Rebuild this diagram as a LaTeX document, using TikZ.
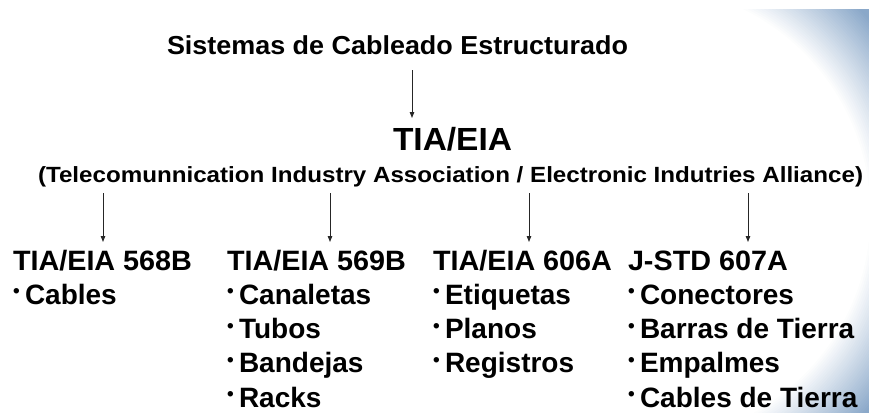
\documentclass[tikz,border=0pt]{standalone}
\usepackage{fontspec}
\setmainfont{Liberation Sans}
\usetikzlibrary{arrows.meta}
\definecolor{blobc}{RGB}{138,168,201}
\newcommand{\sxtext}[2]{\scalebox{#1}[1]{#2}}
\newcommand{\bulitem}[1]{\makebox[12pt][l]{\fontsize{19}{19}\selectfont\raisebox{6.3pt}{•}}#1}
\begin{document}
\begin{tikzpicture}[x=1pt,y=-1pt,
  txt/.style={inner sep=0pt, outer sep=0pt, anchor=base west, text=black},
  hdr/.style={txt, font=\fontsize{28}{28}\selectfont\bfseries},
  itm/.style={txt, font=\fontsize{28}{28}\selectfont\bfseries},
  conn/.style={draw=black!85, line width=1pt, -{Triangle[length=6pt,width=4.5pt]}}]
\useasboundingbox (0,0) rectangle (869,412);
% decorative corner
\begin{scope}
  \clip (600,10) rectangle (869,412);
  \foreach \r in {310,308,...,226} {
    \pgfmathsetmacro\f{max(0,min(100,(\r-228)/(300-228)*100))}
    \fill[blobc!\f!white] (642.5,213.8) circle (\r);
  }
\end{scope}
% titles
\node[txt, font=\fontsize{26}{26}\selectfont\bfseries] (title) at (167,55) {\sxtext{1.036}{Sistemas de Cableado Estructurado}};
\node[txt, font=\fontsize{32}{32}\selectfont\bfseries] (tia) at (393,150) {\sxtext{1.046}{TIA/EIA}};
\node[txt, font=\fontsize{22}{22}\selectfont\bfseries] (sub) at (38,182) {\sxtext{1.098}{(Telecomunnication Industry Association / Electronic Indutries Alliance)}};
% column headers
\node[hdr] (h1) at (13,270) {\sxtext{1.027}{TIA/EIA 568B}};
\node[hdr] (h2) at (227,270) {\sxtext{1.027}{TIA/EIA 569B}};
\node[hdr] (h3) at (433,270) {\sxtext{1.027}{TIA/EIA 606A}};
\node[hdr] (h4) at (628,270) {\sxtext{1.027}{J-STD 607A}};
% items
\node[itm] (i1a) at (13,304.2) {\bulitem{Cables}};
\node[itm] (i2a) at (227,304.2) {\bulitem{Canaletas}};
\node[itm] (i2b) at (227,338.5) {\bulitem{Tubos}};
\node[itm] (i2c) at (227,372.7) {\bulitem{Bandejas}};
\node[itm] (i2d) at (227,407) {\bulitem{Racks}};
\node[itm] (i3a) at (433,304.2) {\bulitem{Etiquetas}};
\node[itm] (i3b) at (433,338.5) {\bulitem{Planos}};
\node[itm] (i3c) at (433,372.7) {\bulitem{Registros}};
\node[itm] (i4a) at (628,304.2) {\bulitem{Conectores}};
\node[itm] (i4b) at (628,338.5) {\bulitem{Barras de Tierra}};
\node[itm] (i4c) at (628,372.7) {\bulitem{Empalmes}};
\node[itm] (i4d) at (628,407) {\bulitem{Cables de Tierra}};
% connector end points
\coordinate (m0) at (412,70);
\coordinate (m1) at (412,118);
\coordinate (a1) at (103,193);
\coordinate (a2) at (330,193);
\coordinate (a3) at (529,193);
\coordinate (a4) at (748,193);
\coordinate (b1) at (103,242);
\coordinate (b2) at (330,242);
\coordinate (b3) at (529,242);
\coordinate (b4) at (748,242);
% connectors
\draw[conn] (m0) -- (m1);
\draw[conn] (a1) -- (b1);
\draw[conn] (a2) -- (b2);
\draw[conn] (a3) -- (b3);
\draw[conn] (a4) -- (b4);
\end{tikzpicture}
\end{document}
